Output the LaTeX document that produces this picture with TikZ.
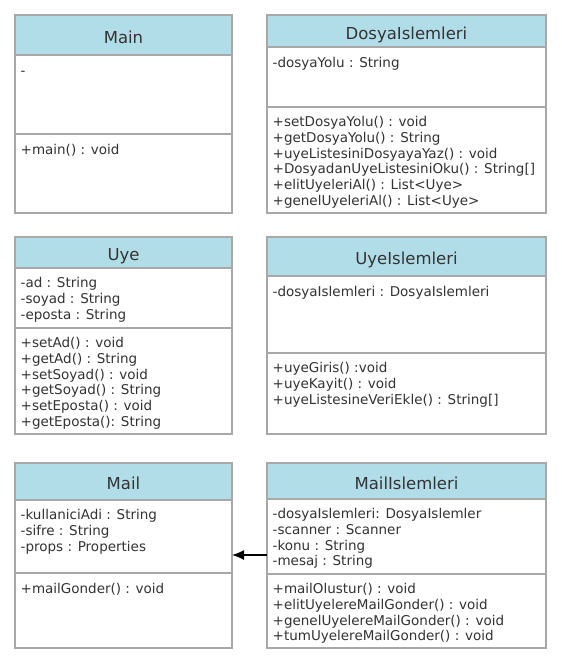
\documentclass[tikz,border=0pt]{standalone}
\usepackage{fontspec}
\setmainfont{DejaVu Sans}
\usetikzlibrary{arrows.meta,calc}
\definecolor{headblue}{HTML}{B1DDE8}
\definecolor{linegray}{HTML}{A8A8A8}
\definecolor{textgray}{HTML}{333333}
\newcommand{\membfont}{\fontsize{13.5bp}{15.8bp}\selectfont}
\newcommand{\headfont}{\fontsize{16.5bp}{19bp}\selectfont}
\begin{document}
\begin{tikzpicture}[>={Latex[length=12bp,width=10bp]}, line join=miter]
 \tikzstyle{head}=[draw=linegray, fill=headblue, line width=1.2bp, anchor=north west, inner sep=0pt, outer sep=0pt, font=\headfont, text=textgray, text height=16bp, text depth=0pt]
 \tikzstyle{part}=[draw=linegray, fill=white, line width=1.2bp, anchor=north west, inner sep=0pt, outer sep=0pt]
 \tikzstyle{members}=[anchor=north west, align=left, inner sep=0pt, font=\membfont, text=textgray, execute at begin node=\strut]
 \useasboundingbox (0bp,0bp) rectangle (562bp,-666bp);

 % left column
 \node (mainHead) at (15bp,-15bp) [head, minimum width=217bp, minimum height=40bp] {Main};
 \node (mainAttr) at (15bp,-55bp) [part, minimum width=217bp, minimum height=79bp] {};
 \node (mainMeth) at (15bp,-134bp) [part, minimum width=217bp, minimum height=79bp] {};
 \node (mainAttrText) at ($(mainAttr.north west)+(5.5bp,-9bp)$) [members] {-};
 \node (mainMethText) at ($(mainMeth.north west)+(5.5bp,-9bp)$) [members] {+main() : void};

 \node (uyeHead) at (15bp,-237bp) [head, minimum width=217bp, minimum height=31bp] {Uye};
 \node (uyeAttr) at (15bp,-268bp) [part, minimum width=217bp, minimum height=60bp] {};
 \node (uyeMeth) at (15bp,-328bp) [part, minimum width=217bp, minimum height=106bp] {};
 \node (uyeAttrText) at ($(uyeAttr.north west)+(5.5bp,-9bp)$) [members]
 	{-ad : String\\-soyad : String\\-eposta : String};
 \node (uyeMethText) at ($(uyeMeth.north west)+(5.5bp,-9bp)$) [members]
 	{+setAd() : void\\+getAd() : String\\+setSoyad() : void\\+getSoyad() : String\\+setEposta() : void\\+getEposta(): String};

 \node (mailHead) at (15bp,-463bp) [head, minimum width=217bp, minimum height=37bp] {Mail};
 \node (mailAttr) at (15bp,-500bp) [part, minimum width=217bp, minimum height=73bp] {};
 \node (mailMeth) at (15bp,-573bp) [part, minimum width=217bp, minimum height=75bp] {};
 \node (mailAttrText) at ($(mailAttr.north west)+(5.5bp,-9bp)$) [members]
 	{-kullaniciAdi : String\\-sifre : String\\-props : Properties};
 \node (mailMethText) at ($(mailMeth.north west)+(5.5bp,-9bp)$) [members] {+mailGonder() : void};

 % right column
 \node (dosyaHead) at (267bp,-15bp) [head, minimum width=279bp, minimum height=32bp] {DosyaIslemleri};
 \node (dosyaAttr) at (267bp,-47bp) [part, minimum width=279bp, minimum height=60bp] {};
 \node (dosyaMeth) at (267bp,-107bp) [part, minimum width=279bp, minimum height=106bp] {};
 \node (dosyaAttrText) at ($(dosyaAttr.north west)+(5.5bp,-9bp)$) [members] {-dosyaYolu : String};
 \node (dosyaMethText) at ($(dosyaMeth.north west)+(5.5bp,-9bp)$) [members]
 	{+setDosyaYolu() : void\\+getDosyaYolu() : String\\+uyeListesiniDosyayaYaz() : void\\+DosyadanUyeListesiniOku() : String[]\\+elitUyeleriAl() : List<Uye>\\+genelUyeleriAl() : List<Uye>};

 \node (uyeIslHead) at (267bp,-237bp) [head, minimum width=279bp, minimum height=39bp] {UyeIslemleri};
 \node (uyeIslAttr) at (267bp,-276bp) [part, minimum width=279bp, minimum height=77bp] {};
 \node (uyeIslMeth) at (267bp,-353bp) [part, minimum width=279bp, minimum height=81bp] {};
 \node (uyeIslAttrText) at ($(uyeIslAttr.north west)+(5.5bp,-9bp)$) [members] {-dosyaIslemleri : DosyaIslemleri};
 \node (uyeIslMethText) at ($(uyeIslMeth.north west)+(5.5bp,-9bp)$) [members]
 	{+uyeGiris() :void\\+uyeKayit() : void\\+uyeListesineVeriEkle() : String[]};

 \node (mailIslHead) at (267bp,-463bp) [head, minimum width=279bp, minimum height=36bp] {MailIslemleri};
 \node (mailIslAttr) at (267bp,-499bp) [part, minimum width=279bp, minimum height=75bp] {};
 \node (mailIslMeth) at (267bp,-574bp) [part, minimum width=279bp, minimum height=74bp] {};
 \node (mailIslAttrText) at ($(mailIslAttr.north west)+(5.5bp,-9bp)$) [members]
 	{-dosyaIslemleri: DosyaIslemler\\-scanner : Scanner\\-konu : String\\-mesaj : String};
 \node (mailIslMethText) at ($(mailIslMeth.north west)+(5.5bp,-9bp)$) [members]
 	{+mailOlustur() : void\\+elitUyelereMailGonder() : void\\+genelUyelereMailGonder() : void\\+tumUyelereMailGonder() : void};

 \draw [->, line width=1.2bp] ([yshift=-18.5bp]mailIslAttr.west) -- ([yshift=-18.5bp]mailAttr.east);

\end{tikzpicture}
\end{document}
